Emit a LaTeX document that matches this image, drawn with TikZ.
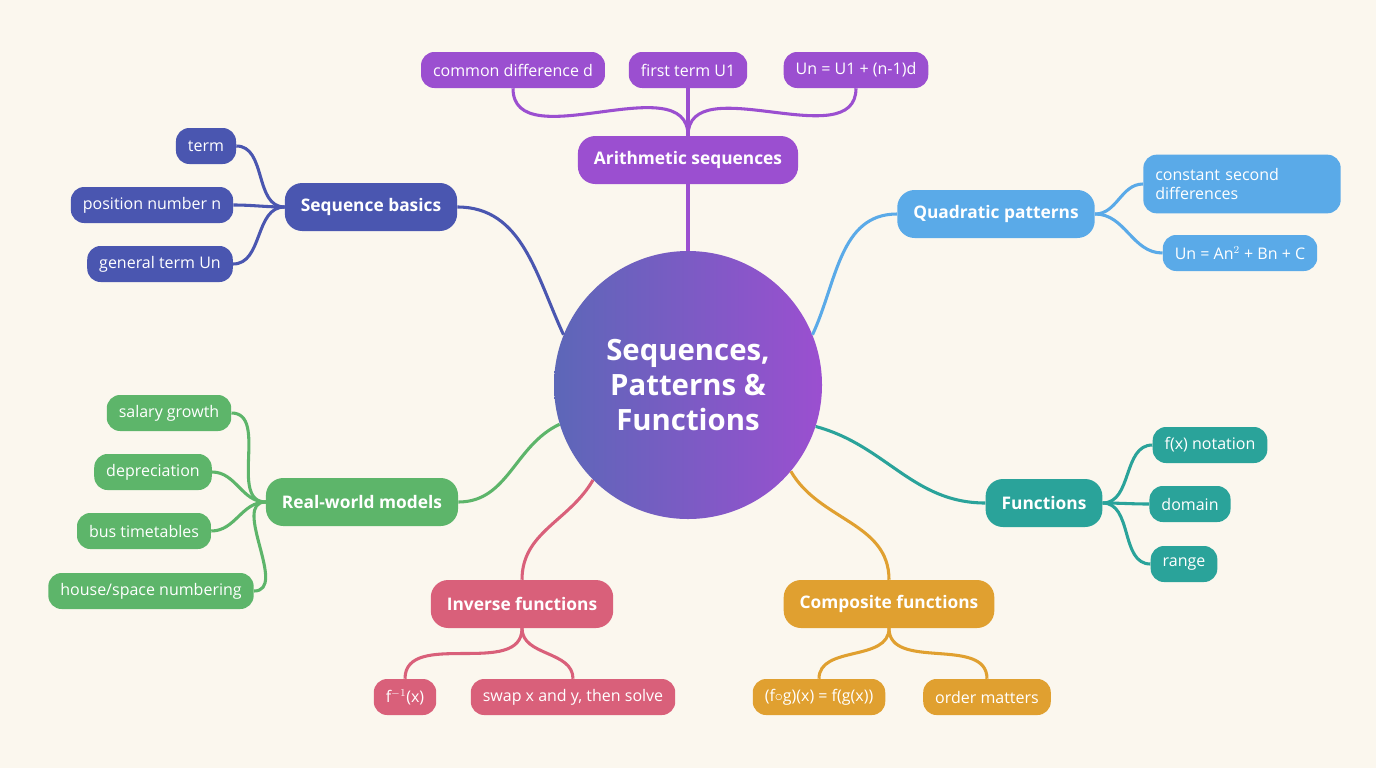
\documentclass[tikz,border=0pt]{standalone}
\usepackage{fontspec}
\setmainfont{Open Sans}
\usetikzlibrary{positioning}
\definecolor{bgc}{HTML}{FBF7EE}
\definecolor{arithc}{HTML}{9B4FD0}
\definecolor{basicc}{HTML}{4A56B0}
\definecolor{quadc}{HTML}{5AAAE8}
\definecolor{realc}{HTML}{5DB56A}
\definecolor{funcc}{HTML}{2AA39A}
\definecolor{invc}{HTML}{D9607A}
\definecolor{compc}{HTML}{E0A030}
\tikzset{
  leaf/.style={rounded corners=10pt, fill=#1, text=white, font=\fontsize{12}{14}\selectfont,
    minimum height=27pt, inner xsep=9pt, draw=none},
  branch/.style={rounded corners=13pt, fill=#1, text=white, font=\bfseries\fontsize{13}{15}\selectfont,
    minimum height=36pt, inner xsep=12pt},
  link/.style={draw=#1, line width=2.3pt}
}
\begin{document}
\begin{tikzpicture}[x=0.75pt, y=-0.75pt]
  \fill[bgc] (0,0) rectangle (1376,768);
  \useasboundingbox (0,0) rectangle (1376,768);
  % hub
  \node[circle, minimum size=201pt, left color=basicc!90, right color=arithc, text=white,
        font=\bfseries\fontsize{22}{26}\selectfont, align=center] (hub) at (688,385)
        {Sequences,\\Patterns \&\\Functions};
  % branches
  \node[branch=arithc] (arith) at (688,160) {Arithmetic sequences};
  \node[branch=basicc] (basic) at (371,207) {Sequence basics};
  \node[branch=quadc]  (quad)  at (996,214) {Quadratic patterns};
  \node[branch=realc]  (real)  at (362,502) {Real-world models};
  \node[branch=funcc]  (func)  at (1044,503) {Functions};
  \node[branch=invc]   (inv)   at (522,604) {Inverse functions};
  \node[branch=compc]  (comp)  at (889,604) {Composite functions};
  % leaves
  \node[leaf=arithc] (cd)  at (513,70) {common difference d};
  \node[leaf=arithc] (ft)  at (688,70) {first term U1};
  \node[leaf=arithc] (un)  at (856,70) {Un = U1 + (n-1)d};
  \node[leaf=basicc] (term) at (206,146) {term};
  \node[leaf=basicc] (pos)  at (152,205) {position number n};
  \node[leaf=basicc] (gen)  at (160,264) {general term Un};
  \node[leaf=quadc, align=left, text width=130pt, minimum height=44pt] (csd) at (1242,184) {constant second\\differences};
  \node[leaf=quadc] (qform) at (1240,253) {Un = An$^2$ + Bn + C};
  \node[leaf=realc] (sal)  at (169,413) {salary growth};
  \node[leaf=realc] (dep)  at (153,472) {depreciation};
  \node[leaf=realc] (bus)  at (144,531) {bus timetables};
  \node[leaf=realc] (house) at (151,591) {house/space numbering};
  \node[leaf=funcc] (fx)   at (1210,445) {f(x) notation};
  \node[leaf=funcc] (dom)  at (1190,504) {domain};
  \node[leaf=funcc] (rng)  at (1184,564) {range};
  \node[leaf=invc]  (finv) at (405,697) {f$^{-1}$(x)};
  \node[leaf=invc]  (swap) at (573,697) {swap x and y, then solve};
  \node[leaf=compc] (fog)  at (819,697) {(f$\circ$g)(x) = f(g(x))};
  \node[leaf=compc] (ord)  at (987,697) {order matters};
  % hub links
  \begin{scope}[on background layer/.style={}]
  \draw[link=arithc] (arith.south) -- (hub.north);
  \draw[link=basicc] (basic.east) to[out=0, in=115] (hub.158);
  \draw[link=quadc]  (quad.west) to[out=180, in=65] (hub.22);
  \draw[link=realc]  (real.east) to[out=0, in=205] (hub.197);
  \draw[link=funcc]  (func.west) to[out=180, in=-15] (hub.-18);
  \draw[link=invc]   (inv.north) to[out=90, in=240] (hub.225);
  \draw[link=compc]  (comp.north) to[out=90, in=-60] (hub.-40);
  % leaf links
  \foreach \n in {cd, ft, un}
    \draw[link=arithc] (\n.south) to[out=-90, in=90] (arith.north);
  \foreach \n in {term, pos, gen}
    \draw[link=basicc] (basic.west) to[out=180, in=0] (\n.east);
  \foreach \n in {csd, qform}
    \draw[link=quadc] (quad.east) to[out=0, in=180] (\n.west);
  \foreach \n in {sal, dep, bus, house}
    \draw[link=realc] (real.west) to[out=180, in=0] (\n.east);
  \foreach \n in {fx, dom, rng}
    \draw[link=funcc] (func.east) to[out=0, in=180] (\n.west);
  \foreach \n in {finv, swap}
    \draw[link=invc] (inv.south) to[out=-90, in=90] (\n.north);
  \foreach \n in {fog, ord}
    \draw[link=compc] (comp.south) to[out=-90, in=90] (\n.north);
  \end{scope}
\end{tikzpicture}
\end{document}
